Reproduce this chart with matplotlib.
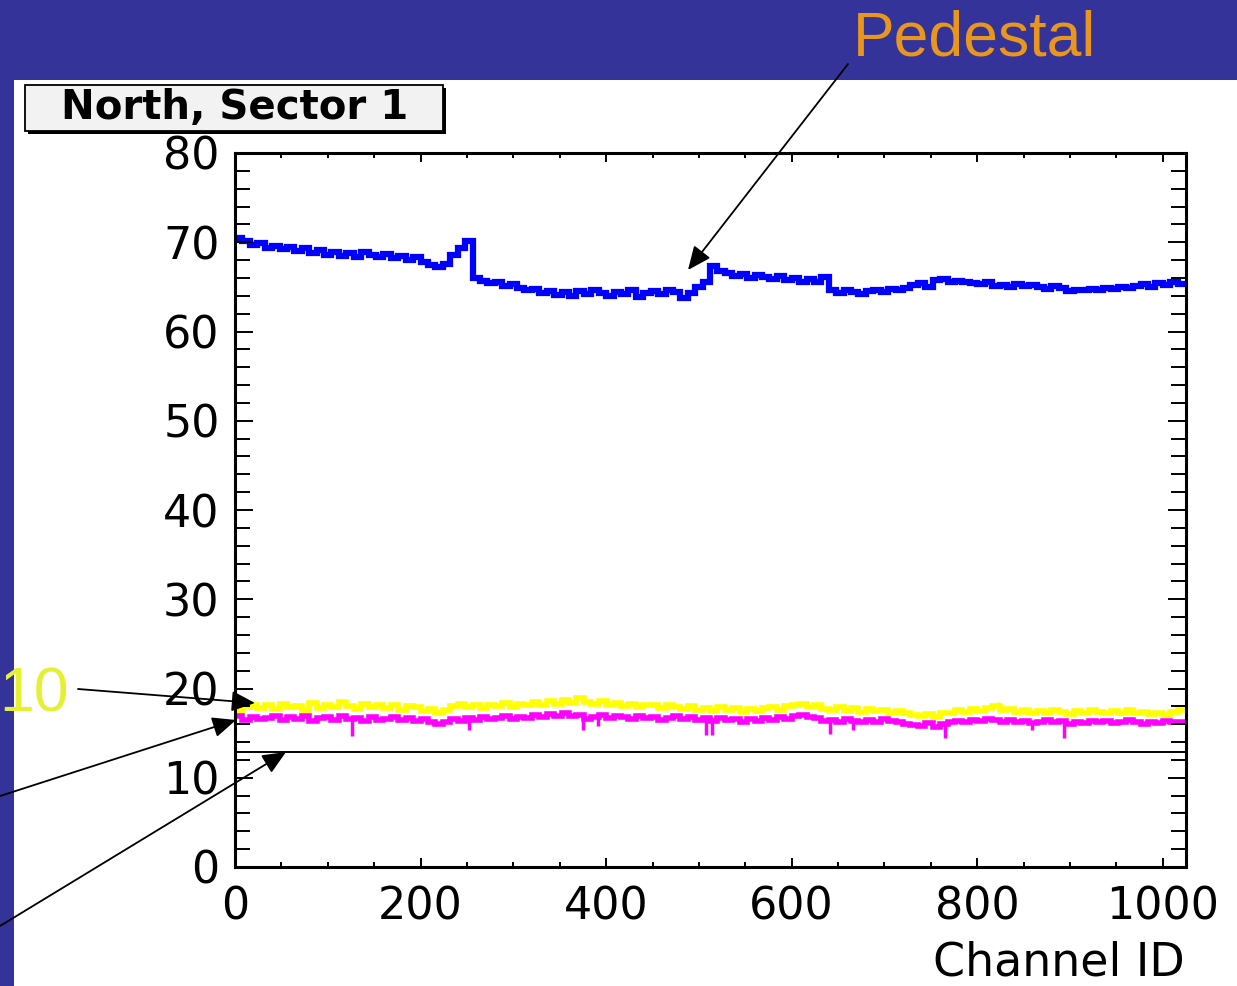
import numpy as np
import matplotlib
matplotlib.use("Agg")
import matplotlib.pyplot as plt
from matplotlib.patches import Rectangle, FancyArrowPatch
from matplotlib.ticker import MultipleLocator

# channel binning: 8 channels per stored value, 1024 channels total
bin_edges = np.arange(0, 1025, 8)

# pedestal (blue) per 8-channel bin
pedestal = [
    70.5, 70.1, 69.7, 69.9, 69.4, 69.6, 69.2, 69.5,
    69.0, 69.3, 68.8, 69.1, 68.6, 68.9, 68.5, 68.8,
    68.4, 68.9, 68.6, 68.3, 68.7, 68.2, 68.5, 68.0,
    68.3, 67.8, 67.5, 67.2, 67.6, 68.6, 69.4, 70.1,
    66.0, 65.7, 65.4, 65.6, 65.1, 65.3, 64.9, 64.6,
    64.8, 64.3, 64.5, 64.1, 64.4, 64.0, 64.5, 64.2,
    64.6, 64.3, 64.0, 64.4, 64.2, 64.6, 63.9, 64.3,
    64.5, 64.2, 64.7, 64.4, 63.8, 64.3, 65.0, 65.6,
    67.3, 66.8, 66.5, 66.2, 66.4, 66.0, 66.3, 66.1,
    65.9, 66.2, 65.8, 66.0, 65.6, 65.9, 65.5, 66.1,
    64.6, 64.3, 64.6, 64.4, 64.2, 64.5, 64.6, 64.4,
    64.8, 64.6, 64.9, 65.2, 65.4, 65.0, 65.8, 65.9,
    65.5, 65.7, 65.6, 65.4, 65.3, 65.5, 65.1, 65.2,
    65.0, 65.3, 65.1, 65.2, 65.0, 64.8, 65.1, 64.9,
    64.5, 64.7, 64.6, 64.8, 64.6, 64.9, 64.8, 65.0,
    64.9, 65.1, 65.3, 65.0, 65.4, 65.2, 65.5, 65.3,
]

# yellow curve
yellow_vals = [
    17.5, 17.9, 18.2, 17.8, 18.1, 17.7, 18.3, 17.9,
    18.0, 17.6, 18.4, 17.8, 18.2, 17.9, 18.5, 18.0,
    17.7, 18.3, 17.9, 18.1, 17.8, 18.2, 17.6, 18.0,
    17.9, 17.5, 17.7, 17.3, 17.6, 18.0, 18.3, 17.9,
    18.1, 17.8, 18.2, 18.0, 18.4, 17.9, 18.3, 18.1,
    18.5, 18.2, 18.6, 18.3, 18.7, 18.4, 18.9, 18.5,
    18.3, 18.6, 18.2, 18.4, 18.0, 18.3, 17.9, 18.2,
    18.1, 17.8, 18.2, 17.9, 17.7, 18.0, 17.6, 17.8,
    17.5, 17.9, 17.6, 17.8, 17.4, 17.7, 17.5, 17.8,
    17.9, 17.6, 18.0, 18.1, 18.3, 17.9, 18.2, 17.7,
    17.6, 17.9, 17.5, 17.8, 17.4, 17.7, 17.5, 17.6,
    17.3, 17.5, 17.2, 17.0, 16.9, 17.1, 16.8, 17.2,
    17.3, 17.6, 17.4, 17.7, 17.5, 17.8, 18.0, 17.6,
    17.7, 17.4, 17.6, 17.3, 17.5, 17.2, 17.6, 17.4,
    17.1, 17.5, 17.3, 17.6, 17.4, 17.2, 17.5, 17.3,
    17.6, 17.2, 17.4, 17.1, 17.3, 17.0, 17.4, 17.6,
]

# magenta curve
magenta_vals = [
    16.9, 16.5, 16.8, 16.6, 16.7, 16.9, 16.5, 16.8,
    16.6, 16.9, 16.4, 16.7, 16.8, 16.5, 16.9, 16.6,
    16.7, 16.4, 16.8, 16.5, 16.6, 16.8, 16.5, 16.7,
    16.4, 16.6, 16.2, 16.0, 16.3, 16.6, 16.4, 16.7,
    16.5, 16.8, 16.6, 16.7, 16.9, 16.6, 16.8, 16.7,
    17.0, 16.8, 17.1, 16.9, 17.2, 16.9, 17.0, 16.6,
    16.8, 17.0, 16.7, 16.9, 16.8, 16.6, 16.9, 16.7,
    16.8, 16.5, 16.7, 16.9, 16.6, 16.8, 16.5, 16.7,
    16.4, 16.7, 16.5, 16.6, 16.3, 16.6, 16.4, 16.7,
    16.5, 16.8, 16.6, 16.9, 17.0, 16.8, 16.7, 16.4,
    16.5, 16.3, 16.6, 16.4, 16.2, 16.5, 16.3, 16.6,
    16.4, 16.2, 16.0, 15.9, 15.8, 16.1, 15.7, 16.0,
    16.2, 16.4, 16.3, 16.5, 16.4, 16.6, 16.5, 16.3,
    16.5, 16.2, 16.4, 16.1, 16.3, 16.5, 16.2, 16.4,
    16.0, 16.3, 16.1, 16.4, 16.2, 16.4, 16.1, 16.3,
    16.5, 16.2, 16.0, 16.3, 16.1, 16.4, 16.2, 16.3,
]

# single-channel downward spikes of the magenta curve
magenta_dip_ch = [126, 252, 375, 391, 508, 514, 641, 666, 765, 859, 894]
magenta_dip_val = [14.7, 15.3, 15.4, 15.8, 14.8, 14.8, 14.9, 15.3, 14.5, 15.3, 14.4]

# single-channel upward spikes of the yellow curve
yellow_peak_ch = [370, 402, 822]
yellow_peak_val = [19.1, 18.9, 18.5]

threshold = 12.9

W, H = 1237, 986


def px(x):
    return x / W


def py(y):
    return 1 - y / H


fig = plt.figure(figsize=(W / 100, H / 100), dpi=100, facecolor="#333399")

# white slide area
fig.add_artist(Rectangle((px(14), 0), 1, py(80), transform=fig.transFigure,
                         facecolor="white", edgecolor="none", zorder=-1))

ax = fig.add_axes([px(235), py(867), px(1186) - px(235), py(153) - py(867)])
ax.set_facecolor("white")

ax.stairs(yellow_vals, bin_edges, baseline=None, color="#ffff00", lw=4)
ax.vlines(yellow_peak_ch, [yellow_vals[c // 8] for c in yellow_peak_ch],
          yellow_peak_val, color="#ffff00", lw=2.5)
ax.stairs(magenta_vals, bin_edges, baseline=None, color="#ff00ff", lw=4)
ax.vlines(magenta_dip_ch, magenta_dip_val,
          [magenta_vals[c // 8] for c in magenta_dip_ch], color="#ff00ff", lw=2.5)
ax.stairs(pedestal, bin_edges, baseline=None, color="#0000ff", lw=4.5)
ax.axhline(threshold, color="black", lw=1.4)

ax.set_xlim(0, 1025)
ax.set_ylim(0, 80)
ax.xaxis.set_major_locator(MultipleLocator(200))
ax.xaxis.set_minor_locator(MultipleLocator(50))
ax.yaxis.set_major_locator(MultipleLocator(10))
ax.yaxis.set_minor_locator(MultipleLocator(2))

for s in ax.spines.values():
    s.set_linewidth(2.2)
ax.tick_params(which="both", direction="in", top=True, right=True, width=1.4,
               labelsize=32, colors="black")
ax.tick_params(axis="y", which="major", length=13, pad=11)
ax.tick_params(axis="y", which="minor", length=10.5)
ax.tick_params(axis="x", which="major", length=6.5, pad=13)
ax.tick_params(axis="x", which="minor", length=3.6)

fig.text(px(1185), py(975), "Channel ID", fontsize=33, ha="right", va="baseline")

# title box with shadow
fig.add_artist(Rectangle((px(28), py(134)), px(418), py(88) - py(134),
                         transform=fig.transFigure, facecolor="black",
                         edgecolor="none", zorder=2))
fig.add_artist(Rectangle((px(25), py(131)), px(418), py(85) - py(131),
                         transform=fig.transFigure, facecolor="#f2f2f2",
                         edgecolor="black", lw=1.3, zorder=3))
fig.text(px(235), py(108), "North, Sector 1", fontsize=29, fontweight="bold",
         ha="center", va="center", zorder=4)

# slide annotations
fig.text(px(853), py(56), "Pedestal", fontsize=45, color="#e8961e",
         family="Liberation Sans", ha="left", va="baseline")
fig.text(px(69), py(712), "10", fontsize=45, color="#e6f032",
         family="Liberation Sans", ha="right", va="baseline")

arrows = [
    ((848, 64), (688, 270)),
    ((78, 689), (255, 703)),
    ((0, 796), (236, 720)),
    ((0, 926), (286, 752)),
]
for (x0, y0), (x1, y1) in arrows:
    fig.add_artist(FancyArrowPatch((px(x0), py(y0)), (px(x1), py(y1)),
                                   transform=fig.transFigure,
                                   arrowstyle="-|>,head_length=0.8,head_width=0.35",
                                   mutation_scale=18, color="black", lw=1.3,
                                   shrinkA=0, shrinkB=0, zorder=5))

fig.savefig("out.png", dpi=100, facecolor=fig.get_facecolor())
